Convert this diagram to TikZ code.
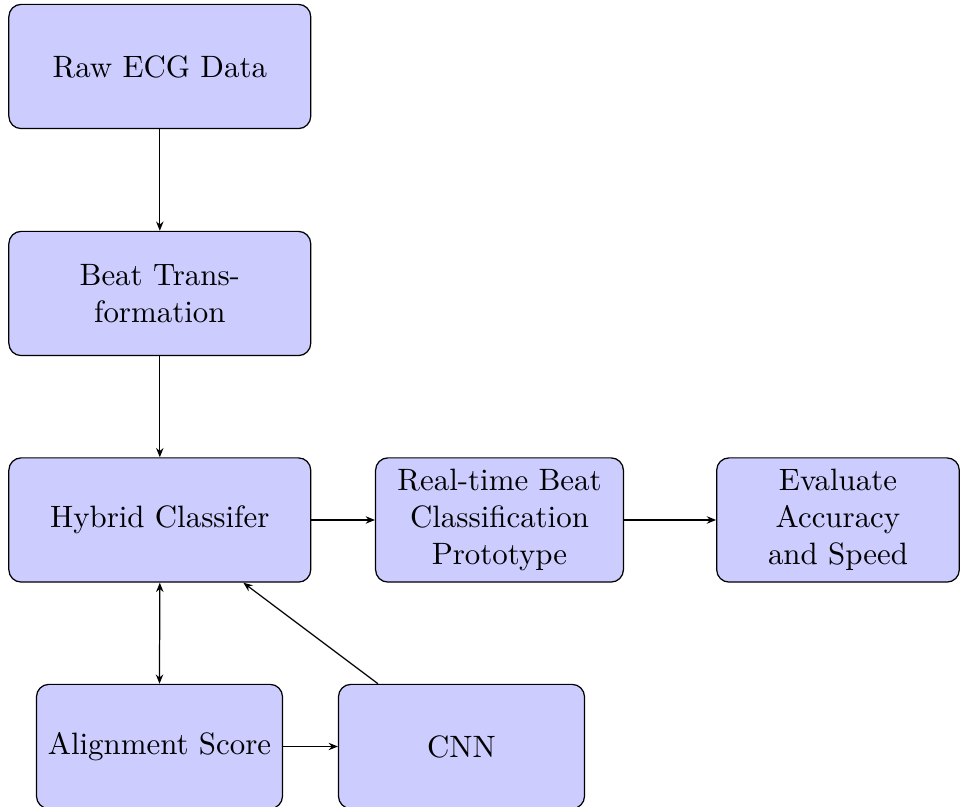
\documentclass[tikz,border=0pt]{standalone}
\usetikzlibrary{arrows.meta}
\tikzset{
  box/.style={draw, rectangle, rounded corners=4pt, fill=blue!20, line width=0.4pt,
    align=center, inner sep=2pt, minimum height=40.2pt},
  wide/.style={box, minimum width=97.7pt},
  narrow/.style={box, minimum width=79.6pt},
  conn/.style={-{Stealth[length=3pt,width=2.4pt]}, line width=0.4pt},
  bconn/.style={{Stealth[length=3pt,width=2.4pt]}-{Stealth[length=3pt,width=2.4pt]}, line width=0.4pt}
}
\begin{document}
\begin{tikzpicture}[x=0.3236pt, y=-0.3236pt]
\useasboundingbox (0,0) rectangle (960,807);
\node[wide] (raw) at (159.8,66.5) {Raw ECG Data};
\node[wide] (beat) at (159.8,293.5) {Beat Trans-\\formation};
\node[wide] (hyb) at (159.8,520) {Hybrid Classifer};
\node[narrow, minimum width=80.2pt] (rt) at (499.5,520) {Real-time Beat\\Classification\\Prototype};
\node[narrow, minimum width=78.5pt] (eval) at (838,520) {Evaluate\\Accuracy\\and Speed};
\node[narrow] (align) at (159.5,746.5) {Alignment Score};
\node[narrow] (cnn) at (461.5,746.5) {CNN};
\draw[conn] (raw) -- (beat);
\draw[conn] (beat) -- (hyb);
\draw[conn] (hyb) -- (rt);
\draw[conn] (rt) -- (eval);
\draw[bconn] (hyb.south) -- (align.north);
\draw[conn] (align) -- (cnn);
\draw[conn] (cnn) -- (hyb);
\end{tikzpicture}
\end{document}
